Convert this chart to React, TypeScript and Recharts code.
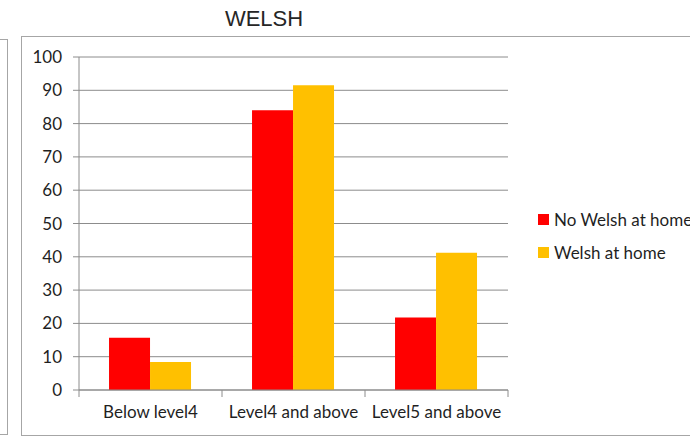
import { BarChart, Bar, XAxis, YAxis, CartesianGrid } from 'recharts';

const categories = ['Below level4', 'Level4 and above', 'Level5 and above'];
const noWelshAtHome = [15.7, 84.0, 21.8];
const welshAtHome = [8.4, 91.5, 41.2];
const yTicks = [0, 10, 20, 30, 40, 50, 60, 70, 80, 90, 100];

const seriesNames = ['No Welsh at home', 'Welsh at home'];
const seriesColors = ['#FF0000', '#FFC000'];

const data = categories.map((name, i) => ({
  name,
  noWelsh: noWelshAtHome[i],
  welsh: welshAtHome[i],
}));

const FONT = 'Lato, "Open Sans", sans-serif';
const FONT_SIZE = 17;
const GRID = '#8c8c8c';
const TEXT = '#1f1f1f';

// plot box, kept the same as the chart margins below
const PLOT_LEFT = 79;
const PLOT_RIGHT = 182;
const CHART_W = 690;
const CHART_H = 438;
const BAND = (CHART_W - PLOT_LEFT - PLOT_RIGHT) / categories.length;

const CategoryTick = ({ x, y, payload }: any) => {
  const half = payload?.offset || BAND / 2;
  return (
    <g>
      <line x1={x - half} y1={y} x2={x - half} y2={y + 7} stroke={GRID} />
      {payload?.index === categories.length - 1 && (
        <line x1={x + half} y1={y} x2={x + half} y2={y + 7} stroke={GRID} />
      )}
      <text
        x={x}
        y={y + 28}
        textAnchor='middle'
        fill={TEXT}
        fontSize={FONT_SIZE}
        fontFamily={FONT}
      >
        {payload.value}
      </text>
    </g>
  );
};

export default function App() {
  return (
    <div
      style={{
        position: 'absolute',
        left: 0,
        top: 0,
        width: CHART_W,
        height: CHART_H,
        background: '#fff',
        overflow: 'hidden',
      }}
    >
      {/* edge of the neighbouring chart */}
      <div
        style={{
          position: 'absolute',
          left: -20,
          top: 39,
          width: 26,
          height: 394,
          border: '1.5px solid #a6a6a6',
        }}
      />
      {/* chart frame */}
      <div
        style={{
          position: 'absolute',
          left: 21,
          top: 36,
          width: 700,
          height: 398,
          border: '1.5px solid #a6a6a6',
        }}
      />
      <div
        style={{
          position: 'absolute',
          left: 164,
          width: 200,
          top: 6,
          textAlign: 'center',
          fontFamily: '"Liberation Sans", Arial, sans-serif',
          fontSize: 22,
          color: '#262626',
        }}
      >
        WELSH
      </div>
      <div style={{ position: 'absolute', left: 0, top: 0 }}>
        <BarChart
          width={CHART_W}
          height={CHART_H}
          data={data}
          margin={{ top: 57, right: PLOT_RIGHT, bottom: 18, left: 0 }}
          barCategoryGap='21%'
          barGap={0}
        >
          <CartesianGrid horizontal vertical={false} stroke={GRID} strokeWidth={1} />
          <YAxis
            width={PLOT_LEFT}
            domain={[0, 100]}
            ticks={yTicks}
            interval={0}
            axisLine={{ stroke: GRID }}
            tickLine={{ stroke: GRID }}
            tickSize={6}
            tickMargin={11}
            tick={{ fill: TEXT, fontSize: FONT_SIZE, fontFamily: FONT }}
          />
          <XAxis
            dataKey='name'
            height={30}
            interval={0}
            axisLine={{ stroke: GRID }}
            tickLine={false}
            tickSize={0}
            tickMargin={0}
            tick={<CategoryTick />}
          />
          <Bar dataKey='noWelsh' name={seriesNames[0]} fill={seriesColors[0]} isAnimationActive={false} />
          <Bar dataKey='welsh' name={seriesNames[1]} fill={seriesColors[1]} isAnimationActive={false} />
        </BarChart>
      </div>
      {seriesNames.map((name, i) => (
        <div
          key={name}
          style={{
            position: 'absolute',
            left: 538,
            top: 209 + i * 33,
            display: 'flex',
            alignItems: 'center',
            whiteSpace: 'nowrap',
            fontFamily: FONT,
            fontSize: FONT_SIZE,
            color: TEXT,
          }}
        >
          <span
            style={{
              display: 'inline-block',
              width: 11,
              height: 11,
              background: seriesColors[i],
              marginRight: 5,
            }}
          />
          {name}
        </div>
      ))}
    </div>
  );
}
